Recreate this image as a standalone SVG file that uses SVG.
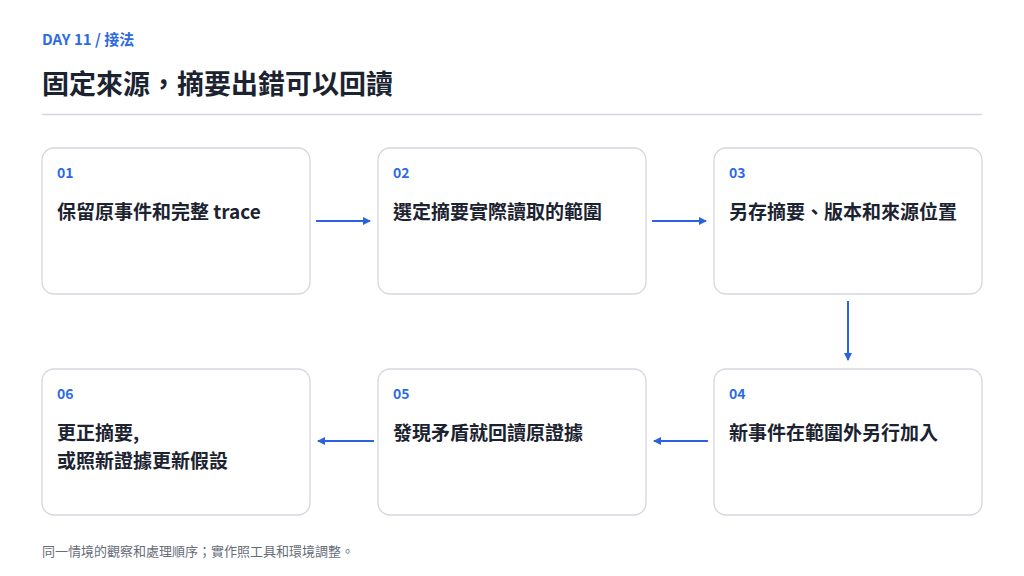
<svg xmlns="http://www.w3.org/2000/svg" width="1024" height="576" viewBox="0 0 1024 576">
<style>
text{font-family:"Noto Sans CJK TC","Noto Sans",sans-serif}
.box{fill:#fff;stroke:#d4d7dd;stroke-width:1.3}
.num{font-size:14px;font-weight:700;fill:#2f6be0}
.lbl{font-size:19px;font-weight:700;fill:#1c2330}
.c{stroke:#2a62e0;stroke-width:2;fill:none;marker-end:url(#a)}
</style>
<defs><marker id="a" markerWidth="8" markerHeight="8" refX="7" refY="4" orient="auto" markerUnits="userSpaceOnUse"><path d="M0,0L8,4L0,8z" fill="#2a62e0"/></marker></defs>
<rect width="1024" height="576" fill="#fff"/>
<text x="42" y="45" style="font-size:15px;font-weight:700;fill:#2f6be0">DAY 11 / 接法</text>
<text x="42" y="94" style="font-size:27px;font-weight:700;fill:#1c2330">固定來源，摘要出錯可以回讀</text>
<line x1="42" y1="114.5" x2="982" y2="114.5" stroke="#d4d7dd" stroke-width="1.3"/>
<g id="n1"><rect class="box" x="42" y="148" width="268" height="146" rx="12"/><text class="num" x="57" y="178">01</text><text class="lbl" x="57" y="219">保留原事件和完整 trace</text></g>
<g id="n2"><rect class="box" x="378" y="148" width="268" height="146" rx="12"/><text class="num" x="393" y="178">02</text><text class="lbl" x="393" y="219">選定摘要實際讀取的範圍</text></g>
<g id="n3"><rect class="box" x="714" y="148" width="268" height="146" rx="12"/><text class="num" x="729" y="178">03</text><text class="lbl" x="729" y="219">另存摘要、版本和來源位置</text></g>
<g id="n4"><rect class="box" x="714" y="369" width="268" height="146" rx="12"/><text class="num" x="729" y="399">04</text><text class="lbl" x="729" y="440">新事件在範圍外另行加入</text></g>
<g id="n5"><rect class="box" x="378" y="369" width="268" height="146" rx="12"/><text class="num" x="393" y="399">05</text><text class="lbl" x="393" y="440">發現矛盾就回讀原證據</text></g>
<g id="n6"><rect class="box" x="42" y="369" width="268" height="146" rx="12"/><text class="num" x="57" y="399">06</text><text class="lbl" x="57" y="440">更正摘要,</text><text class="lbl" x="57" y="468">或照新證據更新假設</text></g>
<g id="connectors">
<line class="c" x1="316" y1="221" x2="370" y2="221"/>
<line class="c" x1="652" y1="221" x2="706" y2="221"/>
<line class="c" x1="848" y1="301" x2="848" y2="360"/>
<line class="c" x1="708" y1="441" x2="654" y2="441"/>
<line class="c" x1="374" y1="441" x2="318" y2="441"/>
</g>
<text x="42" y="556" style="font-size:13px;fill:#666c78">同一情境的觀察和處理順序；實作照工具和環境調整。</text>
</svg>
